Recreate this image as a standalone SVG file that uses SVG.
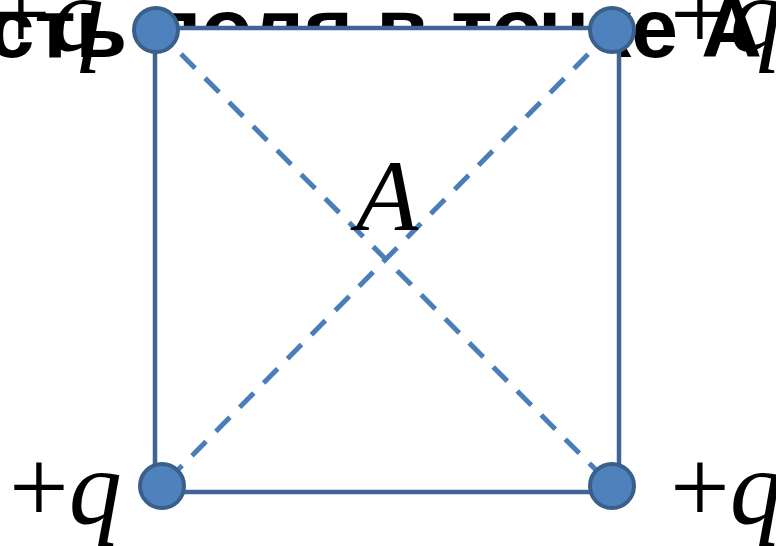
<svg xmlns="http://www.w3.org/2000/svg" width="776" height="546" viewBox="0 0 776 546">
<style>
.title{font-family:"Liberation Sans",Arial,sans-serif;font-weight:bold;font-size:84px;fill:#000}
.lbl{font-family:"Liberation Serif","Times New Roman",serif;font-size:106px;fill:#000}
.it{font-style:italic}
.sq{fill:#fff;stroke:#3F6495;stroke-width:4.5}
.diag{stroke:#4A7EBB;stroke-width:5;stroke-dasharray:20 14;fill:none}
.chg{fill:#4F81BD;stroke:#3A5F8B;stroke-width:4}
</style>
<rect width="776" height="546" fill="#fff"/>
<text class="title" x="762" y="57" text-anchor="end">Напряженность поля в точке А</text>
<g id="label-tl"><text class="lbl" x="-9" y="50">+<tspan class="it">q</tspan></text></g>
<g id="label-tr"><text class="lbl" x="670" y="50">+<tspan class="it">q</tspan></text></g>
<g id="label-bl"><text class="lbl" x="9" y="523">+<tspan class="it">q</tspan></text></g>
<g id="label-br"><text class="lbl" x="670" y="523">+<tspan class="it">q</tspan></text></g>
<g id="square"><rect class="sq" x="155" y="28" width="464" height="464"/></g>
<g id="connectors">
<line class="diag" x1="157" y1="30" x2="612" y2="486"/>
<line class="diag" x1="612" y1="30" x2="162" y2="486"/>
</g>
<g id="label-A"><text class="lbl it" x="356" y="230" style="font-size:102px">A</text></g>
<g id="charge-tl"><circle class="chg" cx="156" cy="30" r="22"/></g>
<g id="charge-tr"><circle class="chg" cx="612" cy="30" r="22"/></g>
<g id="charge-bl"><circle class="chg" cx="162" cy="486" r="22"/></g>
<g id="charge-br"><circle class="chg" cx="612" cy="486" r="22"/></g>
</svg>
